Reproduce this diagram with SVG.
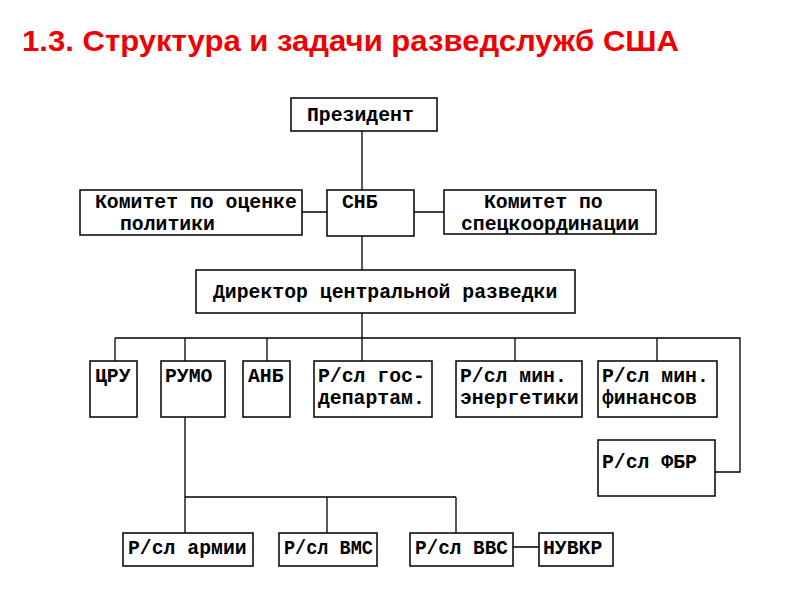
<svg xmlns="http://www.w3.org/2000/svg" width="800" height="600" viewBox="0 0 800 600">
<style>
.b{fill:#fff;stroke:#000;stroke-width:1.5}
.t{font-family:"Liberation Mono","Courier New",monospace;font-weight:bold;font-size:19.8px;fill:#000}
.c{fill:none;stroke:#000;stroke-width:1.3}
</style>
<rect width="800" height="600" fill="#fff"/>
<text x="22" y="51" font-family="Liberation Sans,Arial,sans-serif" font-weight="bold" font-size="29.5" textLength="657" lengthAdjust="spacingAndGlyphs" fill="#f00000">1.3. Структура и задачи разведслужб США</text>
<g id="connectors">
<path class="c" d="M362 131V190M362 236V270M302 212H327M414 212H444M362 313V338M115 338H740V472H715M115 338V361M185 338V361M267 338V361M362 338V361M515 338V361M657 338V361M185 417V497M185 497H456M185 497V533M327 497V533M456 497V533M513 547H539"/>
</g>
<g id="president"><rect class="b" x="291" y="98" width="146" height="33" stroke-width="2.5"/><text class="t" x="307" y="121">Президент</text></g>
<g id="kom-ocenka"><rect class="b" x="80" y="190" width="222" height="45"/><text class="t" x="95" y="208">Комитет по оценке</text><text class="t" x="120" y="230">политики</text></g>
<g id="snb"><rect class="b" x="327" y="190" width="87" height="46"/><text class="t" x="342" y="208">СНБ</text></g>
<g id="kom-spec"><rect class="b" x="444" y="190" width="212" height="44"/><text class="t" x="484" y="208">Комитет по</text><text class="t" x="461" y="230">спецкоординации</text></g>
<g id="dcr"><rect class="b" x="196" y="270" width="379" height="43"/><text class="t" x="213" y="298">Директор центральной разведки</text></g>
<g id="cru"><rect class="b" x="90" y="361" width="47" height="56"/><text class="t" x="95" y="382">ЦРУ</text></g>
<g id="rumo"><rect class="b" x="161" y="361" width="64" height="56"/><text class="t" x="165" y="382">РУМО</text></g>
<g id="anb"><rect class="b" x="243" y="361" width="47" height="56"/><text class="t" x="248" y="382">АНБ</text></g>
<g id="gosdep"><rect class="b" x="314" y="361" width="118" height="56"/><text class="t" x="318" y="382">Р/сл гос-</text><text class="t" x="318" y="404">департам.</text></g>
<g id="energ"><rect class="b" x="456" y="361" width="126" height="56"/><text class="t" x="460" y="382">Р/сл мин.</text><text class="t" x="460" y="404">энергетики</text></g>
<g id="fin"><rect class="b" x="598" y="361" width="119" height="56"/><text class="t" x="602" y="382">Р/сл мин.</text><text class="t" x="602" y="404">финансов</text></g>
<g id="fbr"><rect class="b" x="598" y="440" width="117" height="56"/><text class="t" x="602" y="468">Р/сл ФБР</text></g>
<g id="army"><rect class="b" x="123" y="533" width="130" height="33"/><text class="t" x="128" y="554">Р/сл армии</text></g>
<g id="vms"><rect class="b" x="279" y="533" width="98" height="33"/><text class="t" x="284" y="554" textLength="89" lengthAdjust="spacingAndGlyphs">Р/сл ВМС</text></g>
<g id="vvs"><rect class="b" x="410" y="533" width="103" height="33"/><text class="t" x="415" y="554" textLength="93" lengthAdjust="spacingAndGlyphs">Р/сл ВВС</text></g>
<g id="nuvkr"><rect class="b" x="539" y="533" width="74" height="33"/><text class="t" x="543" y="554">НУВКР</text></g>
</svg>
